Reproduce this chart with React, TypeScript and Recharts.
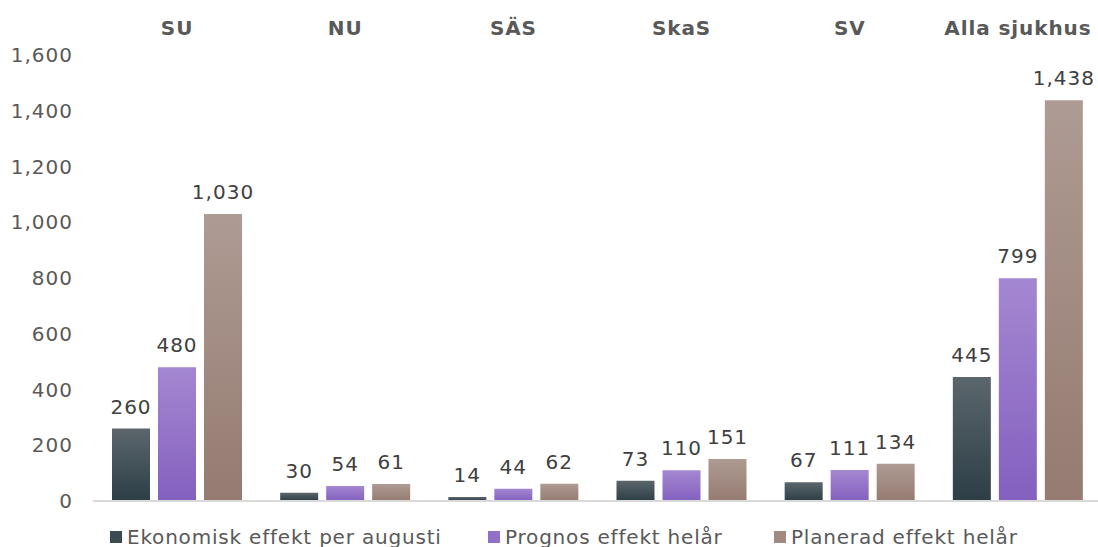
import { BarChart, Bar, XAxis, YAxis, LabelList, Legend, ReferenceLine } from "recharts";

// ── Data ────────────────────────────────────────────────────────────
const categories = ["SU", "NU", "SÄS", "SkaS", "SV", "Alla sjukhus"];
const ekonomisk = [260, 30, 14, 73, 67, 445];
const prognos = [480, 54, 44, 110, 111, 799];
const planerad = [1030, 61, 62, 151, 134, 1438];
const yTicks = [0, 200, 400, 600, 800, 1000, 1200, 1400, 1600];

const SERIES = [
  { key: "ekonomisk", label: "Ekonomisk effekt per augusti", top: "#5b666c", bottom: "#2d3e46", swatch: "#3b4b53", x: 110 },
  { key: "prognos", label: "Prognos effekt helår", top: "#a487d1", bottom: "#8460bf", swatch: "#9170c9", x: 488 },
  { key: "planerad", label: "Planerad effekt helår", top: "#ae9b93", bottom: "#957b71", swatch: "#a18a81", x: 774 },
];

const data = categories.map((name, i) => ({
  name,
  ekonomisk: ekonomisk[i],
  prognos: prognos[i],
  planerad: planerad[i],
}));

const fmt = (v: unknown) => Number(v).toLocaleString("en-US");

// legend drawn as plain html, items placed where the original has them
function LegendBox() {
  return (
    <div style={{ position: "relative", height: 46, fontSize: 20, letterSpacing: 0.8, color: "#595959" }}>
      {SERIES.map((s) => (
        <div
          key={s.key}
          style={{ position: "absolute", left: s.x, top: 25, display: "flex", alignItems: "center", lineHeight: "22px", whiteSpace: "nowrap" }}
        >
          <span style={{ width: 12, height: 12, background: s.swatch, marginRight: 5, display: "inline-block" }} />
          <span>{s.label}</span>
        </div>
      ))}
    </div>
  );
}

export default function App() {
  return (
    <div
      style={{
        position: "absolute",
        left: 0,
        top: 0,
        width: 1098,
        height: 547,
        overflow: "hidden",
        background: "#fff",
        fontFamily: "Verdana, 'DejaVu Sans', sans-serif",
      }}
    >
      <BarChart
        width={1102}
        height={547}
        data={data}
        margin={{ top: 0, right: 0, bottom: 0, left: 0 }}
        barCategoryGap={19}
        barGap={8}
      >
        <defs>
          {SERIES.map((s) => (
            <linearGradient key={s.key} id={`g-${s.key}`} x1="0" y1="0" x2="0" y2="1">
              <stop offset="0%" stopColor={s.top} />
              <stop offset="100%" stopColor={s.bottom} />
            </linearGradient>
          ))}
        </defs>
        <XAxis
          dataKey="name"
          orientation="top"
          height={55}
          axisLine={false}
          tickLine={false}
          tickMargin={14}
          interval={0}
          tick={{ fill: "#595959", fontSize: 20, fontWeight: 700, letterSpacing: 0.9 }}
        />
        <YAxis
          width={93}
          domain={[0, 1600]}
          ticks={yTicks}
          axisLine={false}
          tickLine={false}
          tickMargin={14}
          tick={{ fill: "#595959", fontSize: 20, letterSpacing: 1 }}
          tickFormatter={fmt}
        />
        <ReferenceLine y={0} stroke="#d9d9d9" strokeWidth={2} />
        {SERIES.map((s) => (
          <Bar key={s.key} dataKey={s.key} name={s.label} fill={`url(#g-${s.key})`} isAnimationActive={false}>
            <LabelList
              dataKey={s.key}
              position="top"
              offset={15}
              fill="#404040"
              fontSize={20}
              letterSpacing={1}
              formatter={fmt}
            />
          </Bar>
        ))}
        <Legend verticalAlign="bottom" height={46} content={() => <LegendBox />} />
      </BarChart>
    </div>
  );
}
